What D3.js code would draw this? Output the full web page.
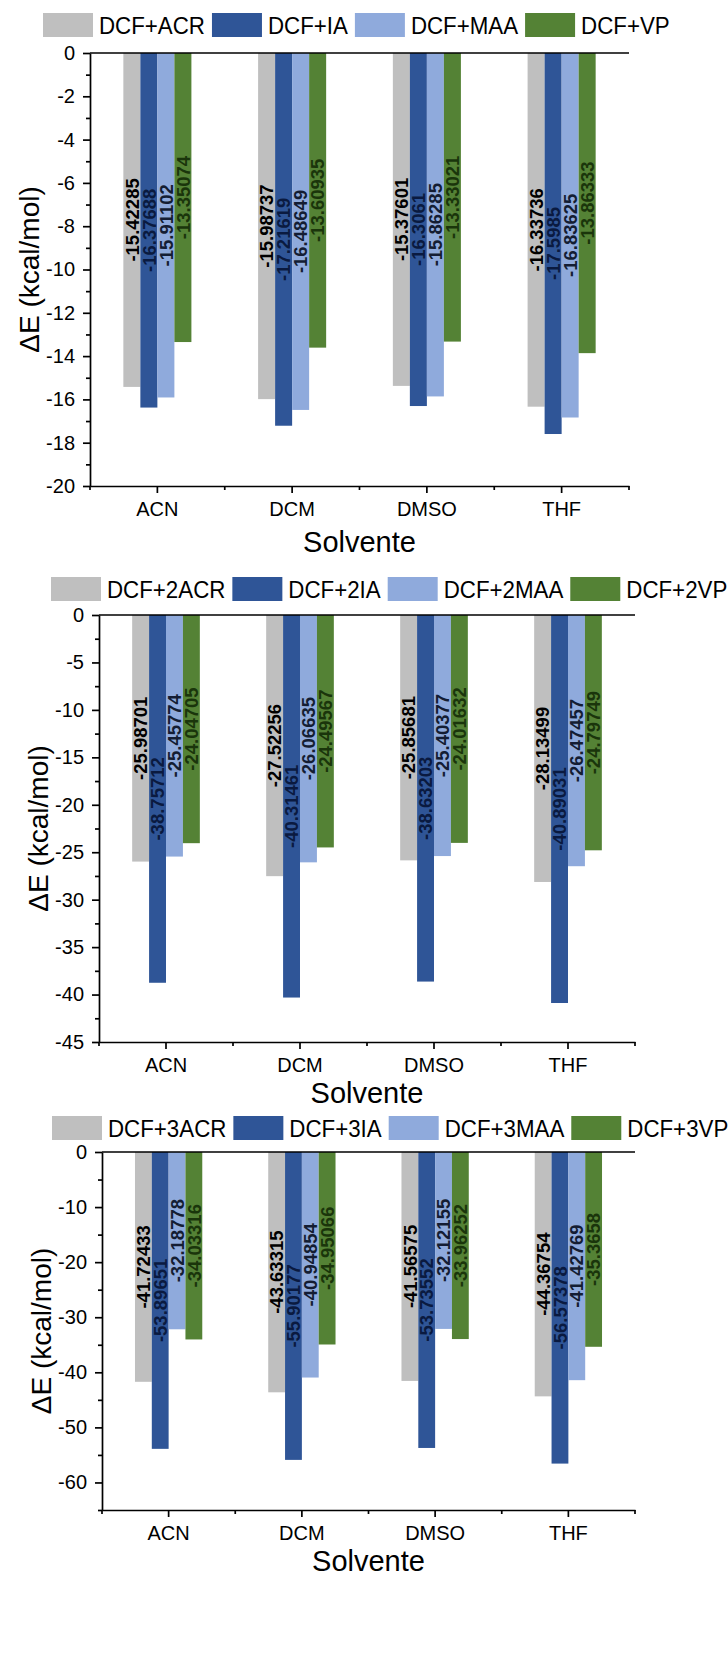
<!DOCTYPE html>
<html>
<head>
<meta charset="utf-8">
<script src="https://cdn.jsdelivr.net/npm/d3@7"></script>
<style>
  html, body { margin: 0; padding: 0; background: #fff; }
  svg { display: block; }
  svg text { font-family: "Liberation Sans", Arial, Helvetica, sans-serif; }
</style>
</head>
<body>
<svg id="chart" width="728" height="1670"></svg>
<script>
// ---------- DATA ----------
const categories = ["ACN", "DCM", "DMSO", "THF"];

const series1 = ["DCF+ACR", "DCF+IA", "DCF+MAA", "DCF+VP"];
const acr1 = [-15.42285, -15.98737, -15.37601, -16.33736];
const ia1  = [-16.37688, -17.21619, -16.3061, -17.5985];
const maa1 = [-15.91102, -16.48649, -15.86285, -16.83625];
const vp1  = [-13.35074, -13.60935, -13.33021, -13.86333];
const yTicks1 = [0, -2, -4, -6, -8, -10, -12, -14, -16, -18, -20];
const yMinor1 = [-1, -3, -5, -7, -9, -11, -13, -15, -17, -19];

const series2 = ["DCF+2ACR", "DCF+2IA", "DCF+2MAA", "DCF+2VP"];
const acr2 = [-25.98701, -27.52256, -25.85681, -28.13499];
const ia2  = [-38.75712, -40.31461, -38.63203, -40.89031];
const maa2 = [-25.45774, -26.06635, -25.40377, -26.47457];
const vp2  = [-24.04705, -24.49567, -24.01632, -24.79749];
const yTicks2 = [0, -5, -10, -15, -20, -25, -30, -35, -40, -45];
const yMinor2 = [-2.5, -7.5, -12.5, -17.5, -22.5, -27.5, -32.5, -37.5, -42.5];

const series3 = ["DCF+3ACR", "DCF+3IA", "DCF+3MAA", "DCF+3VP"];
const acr3 = [-41.72433, -43.63315, -41.56575, -44.36754];
const ia3  = [-53.89651, -55.90177, -53.73552, -56.57378];
const maa3 = [-32.18778, -40.94854, -32.12155, -41.42769];
const vp3  = [-34.03316, -34.95066, -33.96252, -35.3658];
const yTicks3 = [0, -10, -20, -30, -40, -50, -60];
const yMinor3 = [-5, -15, -25, -35, -45, -55, -65];

const xTitle = "Solvente";
const yTitle = "\u0394E (kcal/mol)";

// ---------- STYLE ----------
const barColors   = ["#bfbfbf", "#2f5597", "#8faadc", "#548235"];
const labelColors = ["#000000", "#0a1a40", "#141d33", "#1a350b"];
const FONT = "Liberation Sans, Arial, Helvetica, sans-serif";

const svg = d3.select("#chart");
svg.append("rect").attr("width", 728).attr("height", 1670).attr("fill", "#fff");

function drawPanel(cfg) {
  const g = svg.append("g");
  const x = d3.scaleBand().domain(categories).range([cfg.x0, cfg.x1]).padding(0);
  const y = d3.scaleLinear().domain([0, cfg.min]).range([cfg.y0, cfg.y1]);
  const groupFrac = 0.505;
  const inner = d3.scaleBand().domain(d3.range(cfg.series.length))
    .range([0, x.bandwidth() * groupFrac]).padding(0);
  const off = x.bandwidth() * (1 - groupFrac) / 2;

  // bars
  cfg.values.forEach((vals, si) => {
    g.selectAll(null).data(vals).enter().append("rect")
      .attr("x", (d, j) => x(categories[j]) + off + inner(si))
      .attr("y", y(0))
      .attr("width", inner.bandwidth())
      .attr("height", d => y(d) - y(0))
      .attr("fill", barColors[si]);
  });

  // value labels
  const fs = 18.5;
  cfg.values.forEach((vals, si) => {
    g.selectAll(null).data(vals).enter().append("text")
      .attr("transform", (d, j) => {
        const cx = x(categories[j]) + off + inner(si) + inner.bandwidth() / 2 + 0.36 * fs;
        const cy = (y(0) + y(d)) / 2;
        return `translate(${cx},${cy}) rotate(-90)`;
      })
      .attr("text-anchor", "middle")
      .attr("font-family", FONT)
      .attr("font-size", fs)
      .attr("font-weight", "bold")
      .attr("fill", labelColors[si])
      .text(d => String(d));
  });

  // zero line at top
  g.append("line").attr("x1", cfg.x0).attr("x2", cfg.x1)
    .attr("y1", y(0)).attr("y2", y(0))
    .attr("stroke", "#000").attr("stroke-width", 1.7);

  // left axis
  const ya = g.append("g").attr("transform", `translate(${cfg.x0},0)`)
    .call(d3.axisLeft(y).tickValues(cfg.yTicks).tickSize(7).tickSizeOuter(0)
      .tickPadding(8).tickFormat(d => String(d)));
  const ym = g.append("g").attr("transform", `translate(${cfg.x0},0)`)
    .call(d3.axisLeft(y).tickValues(cfg.yMinor).tickSize(4).tickSizeOuter(0).tickFormat(""));
  ym.select(".domain").remove();

  // bottom axis
  const xa = g.append("g").attr("transform", `translate(0,${cfg.y1})`)
    .call(d3.axisBottom(x).tickSize(7).tickSizeOuter(0).tickPadding(9));
  const bounds = categories.map(c => x(c)).concat([x.range()[1]]);
  g.append("g").selectAll("line").data(bounds).enter().append("line")
    .attr("x1", d => d).attr("x2", d => d)
    .attr("y1", cfg.y1).attr("y2", cfg.y1 + 4)
    .attr("stroke", "#000").attr("stroke-width", 1.7);

  [ya, ym, xa].forEach(a => {
    a.attr("font-family", FONT);
    a.selectAll("path, line").attr("stroke", "#000").attr("stroke-width", 1.7);
    a.selectAll("text").attr("font-size", 20).attr("fill", "#000")
      .attr("font-family", FONT);
  });

  // titles
  g.append("text").attr("x", (cfg.x0 + cfg.x1) / 2).attr("y", cfg.y1 + cfg.xTitleOff)
    .attr("text-anchor", "middle").attr("font-family", FONT)
    .attr("font-size", 29).attr("fill", "#000").text(xTitle);
  g.append("text")
    .attr("transform", `translate(${cfg.x0 - 51},${(cfg.y0 + cfg.y1) / 2}) rotate(-90)`)
    .attr("text-anchor", "middle").attr("font-family", FONT)
    .attr("font-size", 28).attr("fill", "#000").text(yTitle);

  // legend
  const sw = 50, sh = 24, gapST = 6, gapItem = 7, sx = 0.93, lfs = 24;
  let cur = cfg.legX;
  cfg.series.forEach((name, si) => {
    g.append("rect").attr("x", cur).attr("y", cfg.legY - sh / 2)
      .attr("width", sw).attr("height", sh).attr("fill", barColors[si]);
    cur += sw + gapST;
    const t = g.append("text")
      .attr("transform", `translate(${cur},${cfg.legY + 0.36 * lfs}) scale(${sx},1)`)
      .attr("font-family", FONT)
      .attr("font-size", lfs).attr("fill", "#000").text(name);
    cur += t.node().getComputedTextLength() * sx + gapItem;
  });
}

drawPanel({ x0: 90, x1: 629, y0: 53, y1: 486, min: -20,
  yTicks: yTicks1, yMinor: yMinor1, series: series1,
  values: [acr1, ia1, maa1, vp1], legX: 43, legY: 25, xTitleOff: 66 });

drawPanel({ x0: 99, x1: 635, y0: 615, y1: 1042, min: -45,
  yTicks: yTicks2, yMinor: yMinor2, series: series2,
  values: [acr2, ia2, maa2, vp2], legX: 51, legY: 589, xTitleOff: 61 });

drawPanel({ x0: 102, x1: 635, y0: 1152, y1: 1510, min: -65,
  yTicks: yTicks3, yMinor: yMinor3, series: series3,
  values: [acr3, ia3, maa3, vp3], legX: 52, legY: 1128, xTitleOff: 61 });
</script>
</body>
</html>
